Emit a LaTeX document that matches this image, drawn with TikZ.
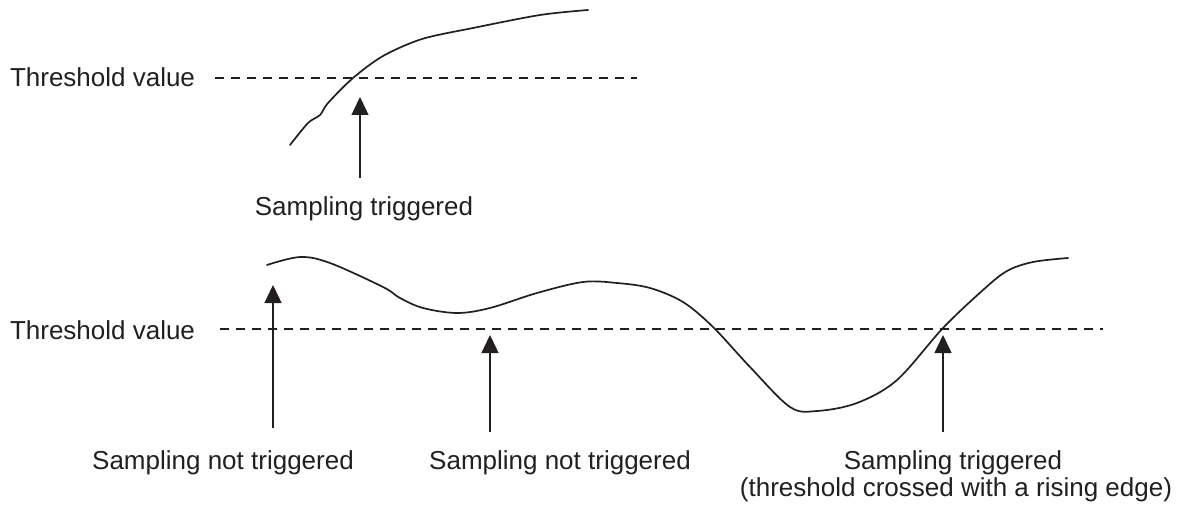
\documentclass[tikz,border=0pt]{standalone}
\usepackage{fontspec}
\setmainfont{Liberation Sans}
\usetikzlibrary{arrows.meta}
\definecolor{ink}{HTML}{231F20}
\begin{document}
\begin{tikzpicture}[x=1pt,y=-1pt,
  every node/.style={inner sep=0pt,outer sep=0pt,text=ink},
  lbl/.style={font=\fontsize{26}{27}\selectfont,anchor=base},
  threshline/.style={draw=ink,line width=1.5pt,dash pattern=on 9pt off 7pt},
  signal/.style={draw=ink,line width=1.7pt,line cap=round,line join=round},
  trigarrow/.style={draw=ink,line width=1.4pt,-{Triangle[width=17pt,length=18pt]}}]
\useasboundingbox (0,0) rectangle (1180,508);
% ---------- top panel ----------
\node[lbl,anchor=base west] (th1) at (10,87) {Threshold value};
\coordinate (d1s) at (215,78);
\coordinate (d1e) at (637,78);
\draw[threshline] (d1s) -- (d1e);
\draw[signal] plot[smooth,tension=0.5] coordinates {(290,145) (308,123) (320,115) (328,103) (353,78) (383,56) (422,39) (473,28) (540,15) (588,10)};
\node[lbl] (st1) at (364,215) {Sampling triggered};
\coordinate (a0s) at (360,178);
\coordinate (a0t) at (360,97);
\draw[trigarrow] (a0s) -- (a0t);
% ---------- bottom panel ----------
\node[lbl,anchor=base west] (th2) at (10,339) {Threshold value};
\coordinate (d2s) at (220,329);
\coordinate (d2e) at (1103,329);
\draw[threshline] (d2s) -- (d2e);
\draw[signal] plot[smooth,tension=0.55] coordinates {(267,265) (300,257) (330,263) (383,287) (400,298) (423,308) (457,313) (490,308) (537,293) (583,282) (617,283) (650,288) (683,302) (713,327) (750,367) (790,407) (817,411) (857,403) (897,380) (943,328) (983,290) (1007,271) (1033,262) (1068,258)};
\node[lbl] (nt1) at (223,469) {Sampling not triggered};
\node[lbl] (nt2) at (560,469) {Sampling not triggered};
\node[lbl] (tr2) at (953,469) {Sampling triggered};
\node[lbl] (tr2b) at (956,496) {(threshold crossed with a rising edge)};
\coordinate (a1s) at (273,428);
\coordinate (a1t) at (273,285);
\coordinate (a2s) at (490,432);
\coordinate (a2t) at (490,335);
\coordinate (a3s) at (943,432);
\coordinate (a3t) at (943,335);
\draw[trigarrow] (a1s) -- (a1t);
\draw[trigarrow] (a2s) -- (a2t);
\draw[trigarrow] (a3s) -- (a3t);
\end{tikzpicture}
\end{document}
